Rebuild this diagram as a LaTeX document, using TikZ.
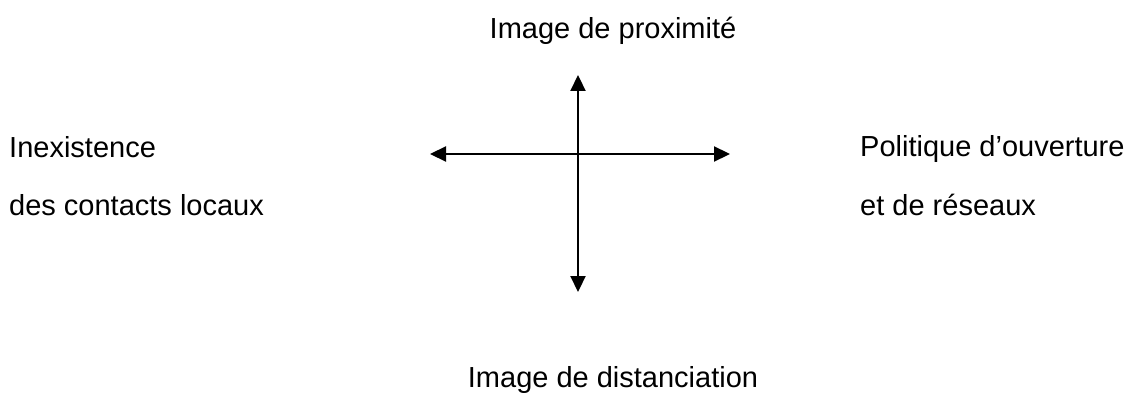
\documentclass[tikz,border=0pt]{standalone}
\usepackage{fontspec}
\setmainfont{Liberation Sans}
\usetikzlibrary{arrows.meta}
\begin{document}
\begin{tikzpicture}[x=1pt,y=-1pt,
  axis/.style={line width=2.2pt,{Triangle[length=16pt,width=15pt]}-{Triangle[length=16pt,width=15pt]}},
  lbl/.style={inner sep=0pt,font=\fontsize{29}{35}\selectfont}]
\useasboundingbox (0,0) rectangle (1131,398);
% axis end points
\coordinate (W) at (430,154);
\coordinate (E) at (730,154);
\coordinate (N) at (578,75);
\coordinate (S) at (578,292);
\draw[axis] (W) -- (E);
\draw[axis] (N) -- (S);
% pole labels
\node[lbl,anchor=base] (top) at (613,39) {Image de proximité};
\node[lbl,anchor=base] (bottom) at (613,387) {Image de distanciation};
\node[lbl,anchor=base west] (left1) at (9,158) {Inexistence};
\node[lbl,anchor=base west] (left2) at (9,215) {des contacts locaux};
\node[lbl,anchor=base west] (right1) at (860,157) {Politique d’ouverture};
\node[lbl,anchor=base west] (right2) at (860,215) {et de réseaux};
\end{tikzpicture}
\end{document}
